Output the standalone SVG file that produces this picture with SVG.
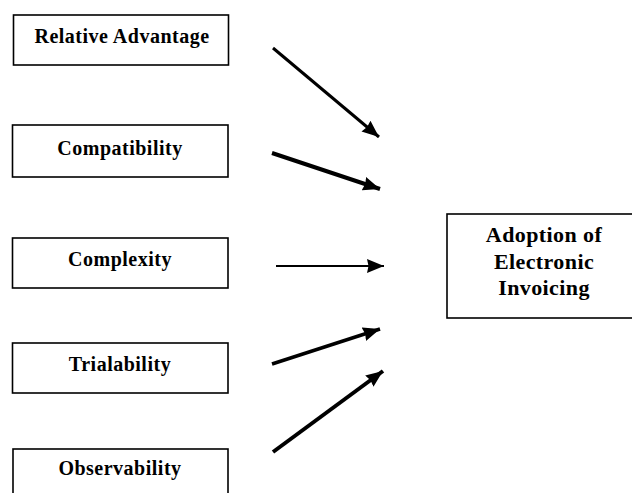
<svg xmlns="http://www.w3.org/2000/svg" width="632" height="493" viewBox="0 0 632 493">
<style>
.box{fill:#fff;stroke:#000;stroke-width:1.6}
.lbl{font-family:"Liberation Serif","Times New Roman",serif;font-weight:bold;font-size:20px;letter-spacing:0.5px;text-anchor:middle;fill:#000}
.big{font-family:"Liberation Serif","Times New Roman",serif;font-weight:bold;font-size:22px;letter-spacing:0.4px;text-anchor:middle;fill:#000}
.arr{stroke:#000;fill:none;stroke-linecap:butt}
</style>
<defs>
<marker id="ah" markerUnits="userSpaceOnUse" markerWidth="18" markerHeight="16" refX="17" refY="8" orient="auto" viewBox="0 0 18 16">
<path d="M0,1 L17,8 L0,15 L1.5,8 Z" fill="#000"/>
</marker>
</defs>
<rect width="632" height="493" fill="#fff"/>
<g id="relative-advantage"><rect class="box" x="13.5" y="15" width="215" height="50"/><text class="lbl" x="122" y="43">Relative Advantage</text></g>
<g id="compatibility"><rect class="box" x="12.5" y="125" width="215.5" height="52"/><text class="lbl" x="120" y="155">Compatibility</text></g>
<g id="complexity"><rect class="box" x="12.5" y="238" width="215.5" height="50"/><text class="lbl" x="120" y="266">Complexity</text></g>
<g id="trialability"><rect class="box" x="12.5" y="343" width="215.5" height="50"/><text class="lbl" x="120" y="371">Trialability</text></g>
<g id="observability"><rect class="box" x="13" y="449" width="215" height="60"/><text class="lbl" x="120" y="475">Observability</text></g>
<g id="adoption"><rect class="box" x="447" y="214" width="194" height="104"/><text class="big" x="544" y="242">Adoption of</text><text class="big" x="544" y="269">Electronic</text><text class="big" x="544" y="295">Invoicing</text></g>
<g id="connectors">
<line class="arr" x1="273" y1="48" x2="379" y2="137" stroke-width="3" marker-end="url(#ah)"/>
<line class="arr" x1="272" y1="153" x2="380" y2="189" stroke-width="4" marker-end="url(#ah)"/>
<line class="arr" x1="276" y1="266" x2="384" y2="266" stroke-width="2.2" marker-end="url(#ah)"/>
<line class="arr" x1="272" y1="364" x2="380" y2="329" stroke-width="3.5" marker-end="url(#ah)"/>
<line class="arr" x1="273" y1="452" x2="383" y2="371" stroke-width="4" marker-end="url(#ah)"/>
</g>
</svg>
